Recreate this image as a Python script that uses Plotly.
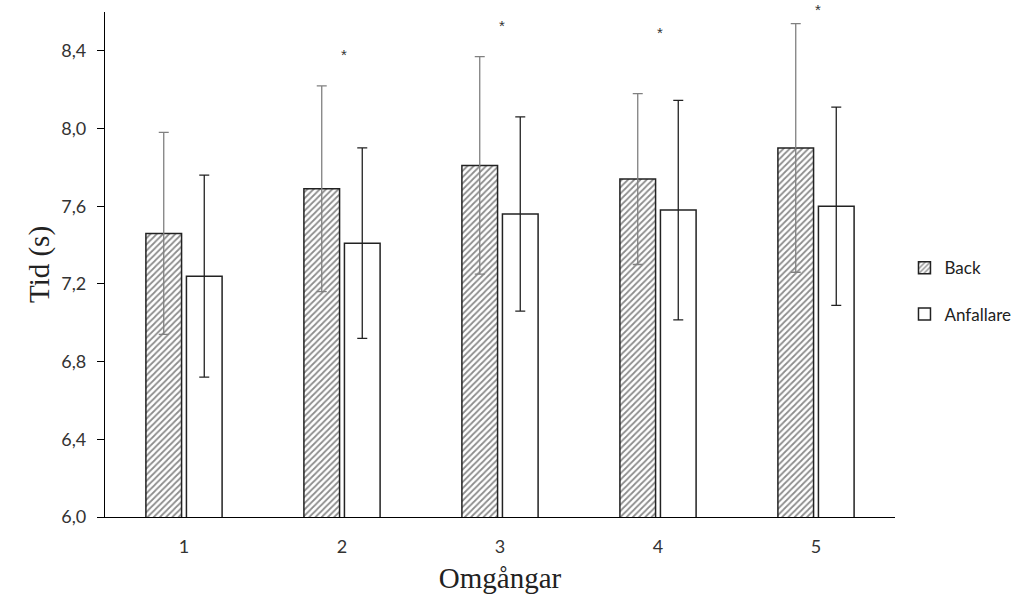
import plotly.graph_objects as go

rounds = ["1", "2", "3", "4", "5"]
back_mean = [7.46, 7.69, 7.81, 7.74, 7.90]
back_sd = [0.52, 0.53, 0.56, 0.44, 0.64]
anf_mean = [7.24, 7.41, 7.56, 7.58, 7.60]
anf_sd = [0.52, 0.49, 0.50, 0.565, 0.51]
sig_rounds = ["2", "3", "4", "5"]
sig_y = [8.39, 8.54, 8.50, 8.62]

Y_MIN, Y_MAX = 6.0, 8.6

fig = go.Figure()
fig.add_trace(go.Bar(
    name="Back", x=rounds, y=back_mean, legendgroup="a",
    marker=dict(color="white", line=dict(color="#222", width=1.5),
                pattern=dict(shape="/", fgcolor="#1a1a1a", bgcolor="white", size=4.4, solidity=0.4)),
    error_y=dict(type="data", array=back_sd, color="#808080", thickness=1.3, width=5),
))
fig.add_trace(go.Bar(
    name="Anfallare", x=rounds, y=anf_mean, legendgroup="b",
    marker=dict(color="white", line=dict(color="#222", width=1.5)),
    error_y=dict(type="data", array=anf_sd, color="#222", thickness=1.3, width=5),
))
for r, yv in zip(sig_rounds, sig_y):
    fig.add_annotation(x=rounds.index(r), y=(yv - Y_MIN) / (Y_MAX - Y_MIN), yref="paper",
                       text="*", showarrow=False, xshift=2, yshift=9,
                       font=dict(family="Liberation Sans, Arial", size=15, color="#333"))

tickfont = dict(family="Lato, Open Sans", size=18, color="#333")
fig.update_layout(
    width=1028, height=600,
    margin=dict(l=105, r=133, t=12, b=83),
    plot_bgcolor="white", paper_bgcolor="white",
    separators=", ",
    barmode="group", bargap=0.487, bargroupgap=0.12,
    showlegend=True,
    legend=dict(x=1.012, y=0.447, xanchor="left", yanchor="middle",
                traceorder="grouped", tracegroupgap=21,
                font=dict(family="Lato, Open Sans", size=17, color="#222")),
    xaxis=dict(type="category", range=[-0.5, 4.5], showline=True, linecolor="black", linewidth=1.2, ticks="",
               ticklabelstandoff=13, tickfont=tickfont,
               title=dict(text="Omgångar", font=dict(family="Liberation Serif, Times New Roman", size=29, color="#222"), standoff=11)),
    yaxis=dict(range=[Y_MIN, Y_MAX], tickvals=[6.0, 6.4, 6.8, 7.2, 7.6, 8.0, 8.4], tickformat=".1f",
               showline=True, linecolor="black", linewidth=1.2, ticks="outside", ticklen=7,
               tickcolor="black", showgrid=False, zeroline=False, ticklabelstandoff=7,
               tickfont=tickfont,
               title=dict(text="Tid (s)", font=dict(family="Liberation Serif, Times New Roman", size=29, color="#222"), standoff=3)),
)
fig.write_html("out.html", config={"displayModeBar": False},
               post_script="document.body.style.margin='0';")
